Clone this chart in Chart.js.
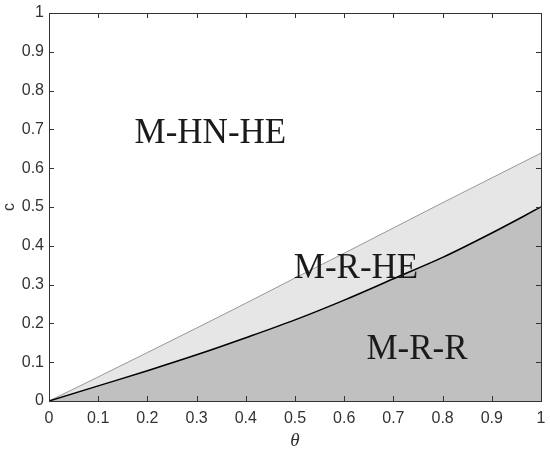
<!DOCTYPE html>
<html>
<head>
<meta charset="utf-8">
<script src="https://cdn.jsdelivr.net/npm/chart.js@4/dist/chart.umd.min.js"></script>
<style>
  html, body { margin: 0; padding: 0; background: #fff; }
  #wrap { width: 550px; height: 451px; position: relative; }
</style>
</head>
<body>
<div id="wrap"><canvas id="c"></canvas></div>
<script>
// theta values and the two boundary curves
const thetaVals = [0, 0.1, 0.2, 0.3, 0.4, 0.5, 0.6, 0.7, 0.8, 0.9, 1.0];
const upperVals = [0, 0.062, 0.125, 0.188, 0.252, 0.317, 0.381, 0.446, 0.511, 0.575, 0.639]; // thin grey line
const lowerVals = [0, 0.039, 0.078, 0.119, 0.163, 0.209, 0.260, 0.315, 0.370, 0.433, 0.500]; // black line

const tickVals = [0, 0.1, 0.2, 0.3, 0.4, 0.5, 0.6, 0.7, 0.8, 0.9, 1];
const tickLabels = ['0', '0.1', '0.2', '0.3', '0.4', '0.5', '0.6', '0.7', '0.8', '0.9', '1'];

// region names and where they sit (data coords, text baseline)
const regionNames = ['M-HN-HE', 'M-R-HE', 'M-R-R'];
const regionX = [0.328, 0.624, 0.748];
const regionY = [0.665, 0.316, 0.107];

const axisColor = '#333333';

const toPoints = (ys) => thetaVals.map((x, i) => ({ x: x, y: ys[i] }));

// box, inward ticks and the region labels
const boxPlugin = {
  id: 'boxPlugin',
  afterDatasetsDraw(chart) {
    const { ctx, chartArea: a, scales: { x, y } } = chart;
    ctx.save();
    ctx.strokeStyle = axisColor;
    ctx.lineWidth = 1;
    ctx.strokeRect(Math.round(a.left) + 0.5, Math.round(a.top) + 0.5,
      Math.round(a.right - a.left), Math.round(a.bottom - a.top));
    const len = 5;
    ctx.beginPath();
    tickVals.forEach(v => {
      const px = Math.round(x.getPixelForValue(v)) + 0.5;
      ctx.moveTo(px, a.bottom); ctx.lineTo(px, a.bottom - len);
      ctx.moveTo(px, a.top); ctx.lineTo(px, a.top + len);
      const py = Math.round(y.getPixelForValue(v)) + 0.5;
      ctx.moveTo(a.left, py); ctx.lineTo(a.left + len, py);
      ctx.moveTo(a.right, py); ctx.lineTo(a.right - len, py);
    });
    ctx.stroke();

    ctx.fillStyle = '#1a1a1a';
    ctx.font = '35px "Liberation Serif", "Times New Roman", serif';
    ctx.textAlign = 'center';
    ctx.textBaseline = 'alphabetic';
    regionNames.forEach((t, i) => {
      ctx.fillText(t, x.getPixelForValue(regionX[i]), y.getPixelForValue(regionY[i]));
    });
    ctx.restore();
  }
};

new Chart(document.getElementById('c'), {
  type: 'line',
  data: {
    datasets: [
      {
        label: 'lower',
        data: toPoints(lowerVals),
        borderColor: '#000000',
        borderWidth: 1.5,
        backgroundColor: '#c0c0c0',
        fill: 'origin',
        pointRadius: 0,
        cubicInterpolationMode: 'monotone'
      },
      {
        label: 'upper',
        data: toPoints(upperVals),
        borderColor: '#808080',
        borderWidth: 0.8,
        backgroundColor: '#e6e6e7',
        fill: '-1',
        pointRadius: 0,
        cubicInterpolationMode: 'monotone'
      }
    ]
  },
  options: {
    responsive: true,
    maintainAspectRatio: false,
    animation: false,
    layout: { padding: { top: 13, right: 9, left: 0, bottom: 0 } },
    plugins: {
      legend: { display: false },
      tooltip: { enabled: false }
    },
    scales: {
      x: {
        type: 'linear',
        min: 0,
        max: 1,
        afterBuildTicks: (s) => { s.ticks = tickVals.map(v => ({ value: v })); },
        afterFit: (s) => { s.height = 50; s.paddingLeft = 0; s.paddingRight = 0; },
        grid: { display: false, drawTicks: false },
        border: { display: false },
        ticks: {
          padding: 8,
          color: axisColor,
          font: { family: '"Liberation Sans", Arial, sans-serif', size: 16 },
          callback: (v, i) => tickLabels[i]
        },
        title: {
          display: true,
          text: 'θ',
          color: axisColor,
          padding: { top: 0, bottom: -1 },
          font: { family: '"Liberation Serif", "Times New Roman", serif', size: 19, style: 'italic' }
        }
      },
      y: {
        type: 'linear',
        min: 0,
        max: 1,
        afterBuildTicks: (s) => { s.ticks = tickVals.map(v => ({ value: v })); },
        afterFit: (s) => { s.width = 49; s.paddingTop = 0; s.paddingBottom = 0; },
        grid: { display: false, drawTicks: false },
        border: { display: false },
        ticks: {
          padding: 5,
          color: axisColor,
          font: { family: '"Liberation Sans", Arial, sans-serif', size: 16 },
          callback: (v, i) => tickLabels[i]
        },
        title: {
          display: true,
          text: 'c',
          color: axisColor,
          padding: { top: 0, bottom: 2 },
          font: { family: '"Liberation Sans", Arial, sans-serif', size: 16 }
        }
      }
    }
  },
  plugins: [boxPlugin]
});
</script>
</body>
</html>
